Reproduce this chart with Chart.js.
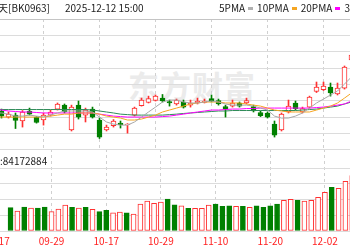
<!DOCTYPE html>
<html>
<head>
<meta charset="utf-8">
<script src="https://cdn.jsdelivr.net/npm/chart.js@4.4.1/dist/chart.umd.min.js"></script>
<style>
  body { margin: 0; width: 350px; height: 250px; overflow: hidden; position: relative; background: #fff;
         font-family: "Noto Sans CJK SC", "DejaVu Sans", sans-serif; }
  canvas { position: absolute; left: -20px; }
  #price { top: 0; }
  #vol { top: 149px; }
  .txt { position: absolute; font-size: 10px; line-height: 10px; color: #222; white-space: nowrap; }
  .sw { display: inline-block; width: 5px; height: 3px; vertical-align: 2px; margin: 0 4px 0 3px; }
  #mark { position: absolute; left: 128px; top: 62px; font-size: 31px; font-weight: bold; color: #ebebeb; letter-spacing: 1px; }
</style>
</head>
<body>
<div id="mark">东方财富</div>
<canvas id="price" width="410" height="149"></canvas>
<canvas id="vol" width="410" height="101"></canvas>
<div class="txt" style="left:-2px;top:3px">天[BK0963]</div>
<div class="txt" style="left:65px;top:3px">2025-12-12 15:00</div>
<div class="txt" style="left:219px;top:3px">5PMA<span class="sw" style="background:#b0b0b0"></span>10PMA<span class="sw" style="background:#f5a623"></span>20PMA<span class="sw" style="background:#ff00ff"></span>30PMA<span class="sw" style="background:#2e8b57"></span></div>
<div class="txt" id="volLabel" style="left:0;top:156px"></div>
<script>
const dates = ['09-17','09-18','09-19','09-22','09-23','09-24','09-25','09-26','09-29','09-30',
  '10-09','10-10','10-13','10-14','10-15','10-16','10-17','10-20','10-21','10-22','10-23','10-24',
  '10-27','10-28','10-29','10-30','10-31','11-03','11-04','11-05','11-06','11-07','11-10','11-11',
  '11-12','11-13','11-14','11-17','11-18','11-19','11-20','11-21','11-24','11-25','11-26','11-27',
  '11-28','12-01','12-02','12-03','12-04','12-05','12-08','12-09','12-10','12-11','12-12'];
const labelDates = ['09-17','09-29','10-17','10-29','11-10','11-20','12-02'];

const open  = [null,null,1113.8,1110.1,1111.3,1107.7,1113.8,1110.1,1108.3,1111.3,
  1115.0,1117.4,1102.2,1117.4,1111.3,1115.0,1108.3,1102.2,1104.9,1106.4,1105.5,1111.3,
  1117.1,1119.0,1120.2,1121.7,1119.6,1118.1,1119.3,1117.4,1118.7,1119.0,1121.4,1120.2,
  1116.5,1116.8,1118.7,1118.7,1116.5,1112.9,1112.6,1105.8,1102.2,1113.2,1118.7,1113.2,
  1116.2,1125.7,1126.9,1128.4,1124.2,1127.8,1145.0,null,null,null,null];
const close = [null,null,1110.7,1111.9,1108.0,1113.2,1111.9,1106.8,1111.3,1113.2,
  1118.1,1113.2,1116.2,1110.1,1114.4,1110.1,1097.9,1104.0,1107.7,1105.5,1105.8,1115.6,
  1120.5,1121.4,1122.9,1119.9,1118.7,1120.5,1116.2,1118.7,1119.9,1119.9,1119.6,1118.1,
  1115.0,1118.7,1116.8,1120.2,1113.8,1111.0,1110.1,1099.1,1111.9,1116.8,1115.3,1115.3,
  1122.3,1128.4,1129.1,1124.8,1127.8,1140.7,1148.0,null,null,null,null];
const high  = [null,null,1115.0,1113.2,1112.6,1114.1,1115.6,1110.4,1112.6,1114.4,
  1118.7,1118.1,1117.4,1119.9,1115.6,1116.2,1109.5,1105.2,1108.6,1107.7,1106.1,1116.2,
  1121.7,1122.9,1123.6,1123.9,1120.5,1121.1,1120.5,1120.5,1121.7,1121.1,1123.6,1121.1,
  1117.4,1120.5,1119.3,1121.7,1117.4,1113.8,1113.2,1107.7,1112.6,1120.5,1119.9,1116.2,
  1122.9,1131.5,1131.5,1130.9,1130.9,1141.3,1149.2,null,null,null,null];
const low   = [null,null,1109.5,1109.5,1103.1,1104.0,1111.3,1106.4,1105.2,1110.7,
  1114.4,1112.6,1101.6,1108.9,1107.1,1109.5,1097.0,1101.6,1104.0,1103.4,1100.3,1110.7,
  1116.8,1118.7,1119.9,1119.3,1116.8,1117.4,1115.6,1116.2,1118.1,1118.7,1119.3,1117.4,
  1110.1,1116.2,1116.2,1118.1,1113.2,1110.4,1109.5,1097.9,1101.6,1112.6,1114.4,1112.6,
  1115.6,1125.1,1126.3,1122.9,1123.6,1127.2,1144.4,null,null,null,null];

const ma5  = [1112.6,1112.6,1112.6,1111.9,1110.7,1110.7,1111.3,1110.7,1110.1,1111.3,
  1112.6,1113.8,1113.8,1113.8,1113.8,1113.2,1110.1,1107.1,1105.8,1105.2,1105.2,1107.1,
  1110.1,1113.2,1116.2,1119.3,1120.5,1120.5,1119.3,1118.7,1118.7,1119.3,1119.9,1119.3,
  1118.1,1117.4,1117.4,1117.4,1116.8,1115.6,1114.4,1110.7,1109.5,1109.5,1110.7,1112.6,
  1115.6,1118.7,1121.1,1123.6,1126.0,1130.3,1134.6,null,null,null,null];
const ma10 = [1110.1,1110.1,1110.1,1110.1,1110.1,1110.1,1110.1,1110.1,1110.1,1110.7,
  1111.3,1111.9,1111.9,1112.6,1112.6,1112.6,1111.9,1110.7,1110.1,1109.5,1108.3,1108.3,
  1108.9,1110.1,1111.3,1113.2,1114.4,1115.6,1116.8,1118.1,1118.7,1119.3,1119.3,1119.3,
  1118.7,1118.7,1118.7,1118.1,1117.4,1116.8,1115.6,1114.4,1113.8,1113.2,1113.2,1113.2,
  1113.2,1114.4,1115.6,1116.8,1118.7,1121.7,1124.8,null,null,null,null];
const ma20 = [1115.0,1114.7,1114.4,1113.8,1113.5,1113.2,1113.2,1112.9,1112.6,1112.6,
  1112.6,1112.6,1112.6,1112.6,1112.6,1112.6,1111.9,1111.3,1110.7,1110.4,1110.1,1110.1,
  1110.1,1110.1,1110.1,1110.4,1110.7,1111.3,1111.9,1112.6,1113.2,1113.8,1114.4,1114.4,
  1114.7,1115.0,1115.0,1115.3,1115.3,1115.6,1115.6,1115.6,1115.6,1115.6,1115.6,1115.6,
  1115.6,1115.9,1116.2,1116.8,1117.4,1118.1,1119.9,null,null,null,null];
const ma30 = [1114.7,1114.7,1114.7,1114.7,1114.7,1114.7,1114.7,1114.7,1114.7,1114.7,
  1114.7,1114.7,1114.7,1114.7,1114.7,1114.4,1113.8,1113.2,1112.6,1111.9,1111.6,1111.3,
  1111.3,1111.3,1111.3,1111.3,1111.6,1111.9,1112.3,1112.6,1112.9,1113.2,1113.5,1113.8,
  1113.8,1114.1,1114.1,1114.1,1114.1,1114.1,1114.1,1114.1,1114.1,1114.1,1114.1,1114.4,
  1114.7,1115.0,1115.6,1116.2,1116.8,1118.1,1119.3,null,null,null,null];

const volume = [null,null,29.7e6,25.5e6,30.6e6,29.3e6,29.3e6,30.6e6,24.6e6,28.0e6,
  33.1e6,30.2e6,29.3e6,30.2e6,27.6e6,24.6e6,26.4e6,23.3e6,24.2e6,23.3e6,21.7e6,34.4e6,
  38.2e6,35.3e6,36.9e6,40.8e6,33.5e6,32.2e6,28.9e6,28.9e6,28.9e6,33.1e6,34.4e6,31.5e6,
  32.2e6,31.5e6,31.5e6,30.2e6,32.2e6,30.2e6,32.2e6,34.4e6,39.1e6,40.4e6,39.1e6,38.2e6,
  39.1e6,42.9e6,49.3e6,55.7e6,54.4e6,63.3e6,70.5e6,null,null,null,84172884];
const lastVolume = 84172884;

const priceTicks = [1100,1110,1120,1130,1140,1150,1160,1170];
const volumeTicks = [0,20e6,40e6,60e6,80e6,104.5e6];

const RED = '#ff3030';
const GREEN = '#008000';
const up = dates.map((d, i) => open[i] == null ? true : close[i] >= open[i]);

document.getElementById('volLabel').textContent = ':' + lastVolume;

const xGrid = {
  offset: false,
  drawTicks: false,
  color: (ctx) => labelDates.includes(dates[ctx.index]) ? '#d0d0d0' : 'rgba(0,0,0,0)',
};

new Chart(document.getElementById('price'), {
  type: 'bar',
  data: {
    labels: dates,
    datasets: [
      { type: 'line', data: ma5, borderColor: '#a8a8a8', borderWidth: 1, pointRadius: 0, order: 0 },
      { type: 'line', data: ma10, borderColor: '#f5a623', borderWidth: 1, pointRadius: 0, order: 0 },
      { type: 'line', data: ma20, borderColor: '#ff00ff', borderWidth: 1, pointRadius: 0, order: 0 },
      { type: 'line', data: ma30, borderColor: '#2e8b57', borderWidth: 1, pointRadius: 0, order: 0 },
      {
        data: dates.map((d, i) => open[i] == null ? null : [open[i], close[i]]),
        backgroundColor: up.map(u => u ? '#ffffff' : GREEN),
        borderColor: up.map(u => u ? RED : GREEN),
        borderWidth: 1,
        borderSkipped: false,
        barThickness: 5,
        grouped: false,
        order: 1,
      },
      {
        data: dates.map((d, i) => high[i] == null ? null : [low[i], high[i]]),
        backgroundColor: up.map(u => u ? RED : GREEN),
        barThickness: 1,
        grouped: false,
        order: 2,
      },
    ],
  },
  options: {
    responsive: false,
    animation: false,
    events: [],
    layout: { padding: { left: 4, right: 7, top: 19, bottom: 0 } },
    plugins: { legend: { display: false }, tooltip: { enabled: false } },
    scales: {
      x: {
        offset: true,
        grid: xGrid,
        border: { display: false, dash: [3, 3] },
        ticks: { display: false, autoSkip: false },
        afterFit: (s) => { s.height = 0; },
      },
      y: {
        position: 'right',
        min: 1090.6,
        max: 1170,
        grid: { color: (ctx) => ctx.tick.value === 1170 ? '#c4c4c4' : '#dcdcdc', drawTicks: false },
        border: { display: false },
        ticks: { display: false },
        afterBuildTicks: (s) => { s.ticks = priceTicks.map(v => ({ value: v })); },
        afterFit: (s) => { s.width = 0; },
      },
    },
  },
});

new Chart(document.getElementById('vol'), {
  type: 'bar',
  data: {
    labels: dates,
    datasets: [{
      data: volume.map((v, i) => open[i] == null ? null : v),
      backgroundColor: up.map(u => u ? '#ffffff' : GREEN),
      borderColor: up.map(u => u ? RED : GREEN),
      borderWidth: 1,
      borderSkipped: false,
      barThickness: 5,
    }],
  },
  options: {
    responsive: false,
    animation: false,
    events: [],
    layout: { padding: { left: 4, right: 7, top: 0, bottom: 0 } },
    plugins: { legend: { display: false }, tooltip: { enabled: false } },
    scales: {
      x: {
        offset: true,
        grid: xGrid,
        border: { display: false, dash: [3, 3] },
        ticks: {
          autoSkip: false,
          maxRotation: 0,
          padding: 4,
          color: '#ff2020',
          font: { size: 10, family: '"Noto Sans CJK SC", "DejaVu Sans", sans-serif' },
          callback: (v, i) => labelDates.includes(dates[i]) ? dates[i] : '',
        },
        afterFit: (s) => { s.height = 19; },
      },
      y: {
        position: 'right',
        min: 0,
        max: 104.5e6,
        grid: { color: '#dcdcdc', drawTicks: false },
        border: { display: false },
        ticks: { display: false },
        afterBuildTicks: (s) => { s.ticks = volumeTicks.map(v => ({ value: v })); },
        afterFit: (s) => { s.width = 0; },
      },
    },
  },
});
</script>
</body>
</html>
